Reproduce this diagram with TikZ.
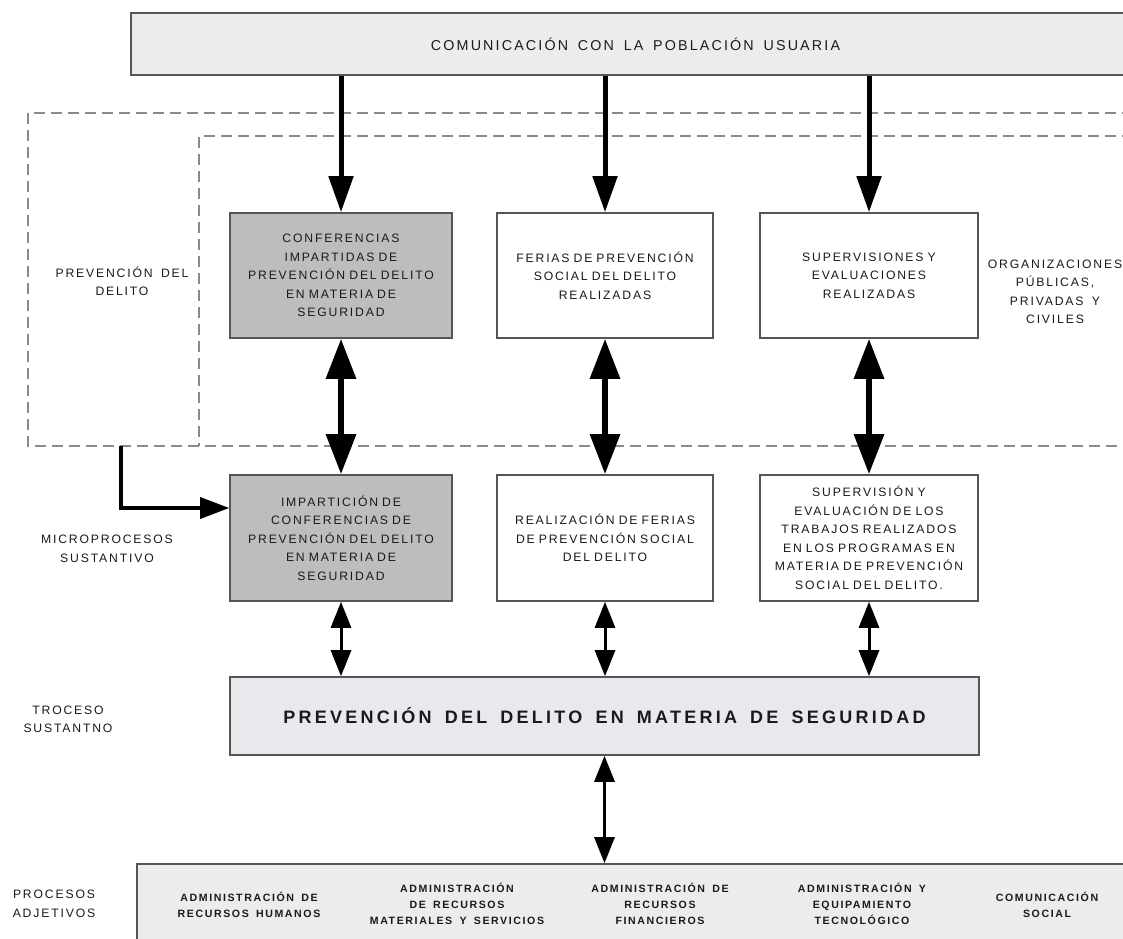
\documentclass[tikz,border=0pt]{standalone}
\usepackage{fontspec}
\setmainfont{Liberation Sans}[LetterSpace=15,WordSpace=1.6]
\usetikzlibrary{arrows.meta}
\definecolor{bordc}{HTML}{555555}
\definecolor{txtc}{HTML}{1A1A1A}
\definecolor{darkbox}{HTML}{BDBDBD}
\definecolor{lightbox}{HTML}{ECECEC}
\definecolor{mainbox}{HTML}{E9E9ED}
\definecolor{dashc}{HTML}{8A8A8A}
\begin{document}
\begin{tikzpicture}[x=1pt,y=-1pt,
  every node/.style={text=txtc},
  smalltxt/.style={font=\fontsize{12.2}{18.5}\selectfont, align=center},
  boxbase/.style={draw=bordc, line width=1.6pt, inner sep=0pt, smalltxt},
  graybox/.style={boxbase, fill=darkbox, minimum width=222pt, minimum height=125pt, text width=214pt},
  whitebox/.style={boxbase, fill=white, minimum width=217pt, minimum height=125pt, text width=214pt},
  lbl/.style={smalltxt, inner sep=0pt},
  adjtxt/.style={font=\fontsize{10.6}{16}\selectfont\bfseries, align=center, inner sep=0pt},
  dashbox/.style={draw=dashc, line width=1.5pt, dash pattern=on 11pt off 6pt},
  bigarrow/.style={line width=5pt, -{Triangle[length=36pt,width=24pt]}},
  dblarrow/.style={line width=6pt, {Triangle[length=40pt,width=29pt]}-{Triangle[length=40pt,width=29pt]}},
  medarrow/.style={line width=3pt, {Triangle[length=26pt,width=20pt]}-{Triangle[length=26pt,width=20pt]}},
  larrow/.style={line width=3.5pt, -{Triangle[length=29pt,width=21pt]}}
]
\useasboundingbox (0,0) rectangle (1123,938);
\clip (0,0) rectangle (1123,938);
\fill[white] (0,0) rectangle (1123,938);

% top box
\node[draw=bordc, line width=2pt, fill=lightbox, minimum width=1009pt, minimum height=62pt, inner sep=0pt,
  font=\fontsize{14.3}{16}\selectfont] (top) at (635.5,44) {COMUNICACIÓN CON LA POBLACIÓN USUARIA};

% dashed regions
\draw[dashbox] (1150,113) -- (28,113) -- (28,446) -- (1150,446);
\draw[dashbox] (1150,136) -- (199,136) -- (199,446);

% row 1
\node[graybox] (c1) at (341,275.5) {CONFERENCIAS\\IMPARTIDAS DE\\PREVENCIÓN DEL DELITO\\EN MATERIA DE\\SEGURIDAD};
\node[whitebox, minimum width=216pt] (f1) at (605,275.5) {FERIAS DE PREVENCIÓN\\SOCIAL DEL DELITO\\REALIZADAS};
\node[whitebox, minimum width=218pt] (s1) at (869,275.5) {SUPERVISIONES Y\\EVALUACIONES\\REALIZADAS};

% row 2
\node[graybox, minimum height=126pt] (c2) at (341,538) {IMPARTICIÓN DE\\CONFERENCIAS DE\\PREVENCIÓN DEL DELITO\\EN MATERIA DE\\SEGURIDAD};
\node[whitebox, minimum width=216pt, minimum height=126pt] (f2) at (605,538) {REALIZACIÓN DE FERIAS\\DE PREVENCIÓN SOCIAL\\DEL DELITO};
\node[whitebox, minimum width=218pt, minimum height=126pt] (s2) at (869,538) {SUPERVISIÓN Y\\EVALUACIÓN DE LOS\\TRABAJOS REALIZADOS\\EN LOS PROGRAMAS EN\\MATERIA DE PREVENCIÓN\\SOCIAL DEL DELITO.};

% main process
\node[draw=bordc, line width=1.6pt, fill=mainbox, minimum width=749pt, minimum height=78pt, inner sep=0pt,
  font=\fontsize{18}{20}\selectfont\bfseries\addfontfeatures{LetterSpace=18}] (main) at (604.5,716) {PREVENCIÓN DEL DELITO EN MATERIA DE SEGURIDAD};

% bottom box
\node[draw=bordc, line width=1.6pt, fill=lightbox, minimum width=1013pt, minimum height=100pt, inner sep=0pt] (adj) at (643.5,914) {};

% labels
\node[lbl] (lprev) at (122,281.5) {PREVENCIÓN DEL\\DELITO};
\node[lbl] (lorg) at (1055,292) {ORGANIZACIONES\\PÚBLICAS,\\PRIVADAS Y\\CIVILES};
\node[lbl] (lmicro) at (107,549) {MICROPROCESOS\\SUSTANTIVO};
\node[lbl] (lproc) at (68,719.5) {TROCESO\\SUSTANTNO};
\node[lbl] (ladj) at (54,904) {PROCESOS\\ADJETIVOS};

\node[adjtxt] (a1) at (249,904.5) {ADMINISTRACIÓN DE\\RECURSOS HUMANOS};
\node[adjtxt] (a2) at (457,904) {ADMINISTRACIÓN\\DE RECURSOS\\MATERIALES Y SERVICIOS};
\node[adjtxt] (a3) at (660,904) {ADMINISTRACIÓN DE\\RECURSOS\\FINANCIEROS};
\node[adjtxt] (a4) at (862,904) {ADMINISTRACIÓN Y\\EQUIPAMIENTO\\TECNOLÓGICO};
\node[adjtxt] (a5) at (1047,904.5) {COMUNICACIÓN\\SOCIAL};

% arrows from top
\draw[bigarrow] (c1.north |- top.south) -- (c1.north);
\draw[bigarrow] (f1.north |- top.south) -- (f1.north);
\draw[bigarrow] (s1.north |- top.south) -- (s1.north);

% row1 <-> row2
\draw[dblarrow] (c1.south) -- (c2.north);
\draw[dblarrow] (f1.south) -- (f2.north);
\draw[dblarrow] (s1.south) -- (s2.north);

% row2 <-> main
\draw[medarrow] (c2.south) -- (c2.south |- main.north);
\draw[medarrow] (f2.south) -- (f2.south |- main.north);
\draw[medarrow] (s2.south) -- (s2.south |- main.north);

% main <-> adjective
\draw[medarrow] (main.south) -- (main.south |- adj.north);

% L arrow
\coordinate (lstart) at (121,446);
\draw[larrow] (lstart) |- ([yshift=30pt]c2.west);
\end{tikzpicture}
\end{document}
